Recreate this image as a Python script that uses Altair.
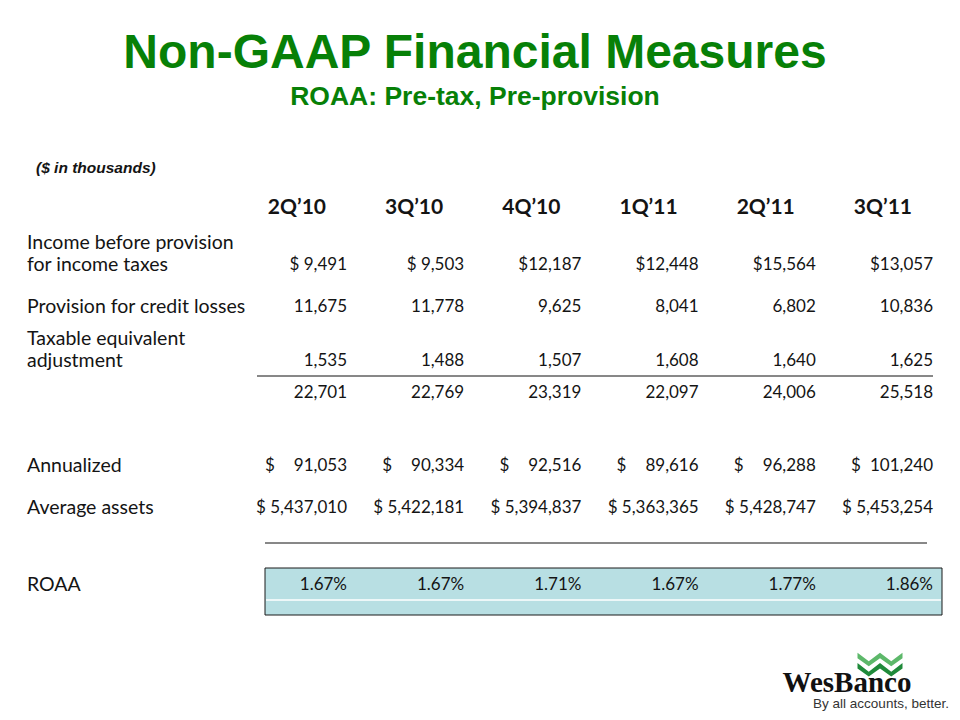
import altair as alt
import pandas as pd

# ---------------- data ----------------
quarters = ["2Q’10", "3Q’10", "4Q’10", "1Q’11", "2Q’11", "3Q’11"]
income_before = [9491, 9503, 12187, 12448, 15564, 13057]
provision = [11675, 11778, 9625, 8041, 6802, 10836]
tax_adjustment = [1535, 1488, 1507, 1608, 1640, 1625]
subtotal = [22701, 22769, 23319, 22097, 24006, 25518]
annualized = [91053, 90334, 92516, 89616, 96288, 101240]
average_assets = [5437010, 5422181, 5394837, 5363365, 5428747, 5453254]
roaa = [1.67, 1.67, 1.71, 1.67, 1.77, 1.86]

label_lines = ["Income before provision", "for income taxes",
               "Provision for credit losses", "Taxable equivalent",
               "adjustment", "Annualized", "Average assets", "ROAA"]
label_rows = ["r1a", "r1", "r2", "r3a", "r3", "ann", "avg", "roaa"]

row_keys = ["hdr", "r1a", "r1", "r2", "r3a", "r3", "tot", "ann", "avg", "roaa"]
row_index = {k: i for i, k in enumerate(row_keys)}

# ---------------- table building ----------------
def dollar_small(v):
    return ("$ " if v < 10000 else "$") + f"{v:,}"

recs = []
for i, q in enumerate(quarters):
    recs.append(dict(col=i, row=row_index["hdr"], text=q, kind="hdr"))
    recs.append(dict(col=i, row=row_index["r1"], text=dollar_small(income_before[i]), kind="val"))
    recs.append(dict(col=i, row=row_index["r2"], text=f"{provision[i]:,}", kind="val"))
    recs.append(dict(col=i, row=row_index["r3"], text=f"{tax_adjustment[i]:,}", kind="val"))
    recs.append(dict(col=i, row=row_index["tot"], text=f"{subtotal[i]:,}", kind="val"))
    recs.append(dict(col=i, row=row_index["ann"], text=f"{annualized[i]:,}", kind="val"))
    recs.append(dict(col=i, row=row_index["ann"], text="$", kind="dollar"))
    recs.append(dict(col=i, row=row_index["avg"], text="$ " + f"{average_assets[i]:,}", kind="val"))
    recs.append(dict(col=i, row=row_index["roaa"], text=f"{roaa[i]:.2f}%", kind="val"))
for t, r in zip(label_lines, label_rows):
    recs.append(dict(col=-1, row=row_index[r], text=t, kind="label"))
df = pd.DataFrame(recs)
one = pd.DataFrame({"k": [0]})  # single row for decorations

# ---------------- scales ----------------
xs = alt.Scale(domain=[-1, 0, 5], range=[19, 339, 925], nice=False, zero=False)
ys = alt.Scale(domain=list(range(len(row_keys))),
               range=[200, 235, 257, 299, 331, 353, 385, 458, 500, 577],
               nice=False, zero=False)
X = alt.X("col:Q", scale=xs, axis=None)
Y = alt.Y("row:Q", scale=ys, axis=None)

FONT = "Lato"
INK = "#141414"
GREEN = "#078007"

base = alt.Chart(df)
deco = alt.Chart(one)

# decorations
box = deco.mark_rect(fill="#B8DFE3", stroke="#1a1a1a", strokeWidth=1).encode(
    x=alt.value(257), x2=alt.value(934), y=alt.value(560), y2=alt.value(607))
box_line = deco.mark_rule(color="white", strokeWidth=1.5).encode(
    x=alt.value(258), x2=alt.value(933), y=alt.value(592))
rule1 = deco.mark_rule(color="#111", strokeWidth=1).encode(
    x=alt.value(249), x2=alt.value(925), y=alt.value(368))
rule2 = deco.mark_rule(color="#111", strokeWidth=1).encode(
    x=alt.value(257), x2=alt.value(919), y=alt.value(535))

headers = base.transform_filter("datum.kind == 'hdr'").mark_text(
    font=FONT, fontWeight="bold", fontSize=21, align="right", baseline="middle",
    dx=-21, color=INK).encode(x=X, y=Y, text="text:N")
values = base.transform_filter("datum.kind == 'val'").mark_text(
    font=FONT, fontSize=17, align="right", baseline="middle", color=INK
).encode(x=X, y=Y, text="text:N")
dollars = base.transform_filter("datum.kind == 'dollar'").mark_text(
    font=FONT, fontSize=17, align="left", baseline="middle", dx=-82, color=INK
).encode(x=X, y=Y, text="text:N")
labels = base.transform_filter("datum.kind == 'label'").mark_text(
    font=FONT, fontSize=19.5, align="left", baseline="middle", color=INK
).encode(x=X, y=Y, text="text:N")

title = deco.mark_text(
    text="Non-GAAP Financial Measures", font="Liberation Sans", fontWeight="bold",
    fontSize=48, color=GREEN, align="center", baseline="alphabetic"
).encode(x=alt.value(467), y=alt.value(60))
subtitle = deco.mark_text(
    text="ROAA: Pre-tax, Pre-provision", font="Liberation Sans", fontWeight="bold",
    fontSize=26.5, color=GREEN, align="center", baseline="alphabetic"
).encode(x=alt.value(467), y=alt.value(97))
units = deco.mark_text(
    text="($ in thousands)", font="Liberation Sans", fontWeight="bold",
    fontStyle="italic", fontSize=15.5, color=INK, align="left", baseline="alphabetic"
).encode(x=alt.value(28), y=alt.value(165))

# logo
band_top = ("M-1,-0.5 L-0.5,-0.12 L0,-0.5 L0.5,-0.12 L1,-0.5 L1,-0.26 "
            "L0.5,0.1 L0,-0.26 L-0.5,0.1 L-1,-0.26 Z")
band_bot = ("M-1,-0.04 L-0.5,0.34 L0,-0.04 L0.5,0.34 L1,-0.04 L1,0.2 "
            "L0.5,0.56 L0,0.2 L-0.5,0.56 L-1,0.2 Z")
logo_top = deco.mark_point(shape=band_top, filled=True, size=2025,
                           color="#5DB86A", opacity=1, strokeWidth=0).encode(
    x=alt.value(872), y=alt.value(656))
logo_bot = deco.mark_point(shape=band_bot, filled=True, size=2025,
                           color="#1F8A3A", opacity=1, strokeWidth=0).encode(
    x=alt.value(872), y=alt.value(656))
logo_name = deco.mark_text(
    text="WesBanco", font="Liberation Serif", fontWeight="bold", fontSize=29,
    color="#111", align="center", baseline="alphabetic"
).encode(x=alt.value(839), y=alt.value(684))
logo_tag = deco.mark_text(
    text="By all accounts, better.", font="Liberation Sans", fontSize=13.5,
    color="#333", align="center", baseline="alphabetic"
).encode(x=alt.value(873), y=alt.value(700))

chart = alt.layer(
    box, box_line, rule1, rule2, headers, values, dollars, labels,
    title, subtitle, units, logo_top, logo_bot, logo_name, logo_tag
).properties(width=944, height=704, padding=0, autosize="none",
             background="white").configure_view(stroke=None)

chart.save("out.html", embed_options={"renderer": "svg", "actions": False})
